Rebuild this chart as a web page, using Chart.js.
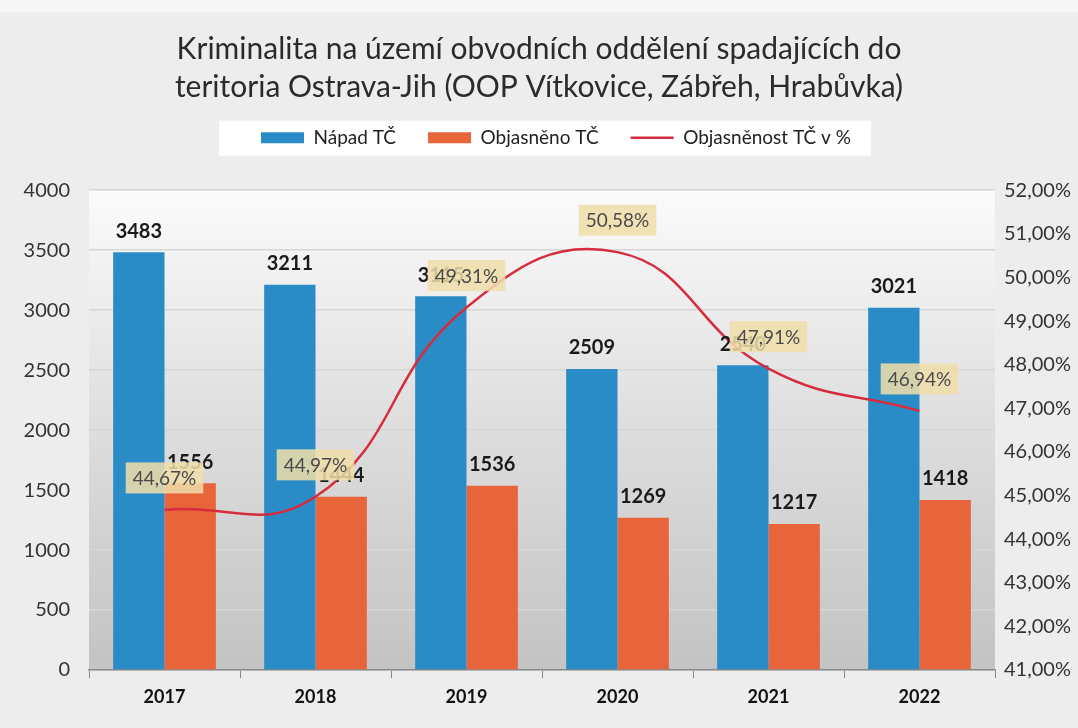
<!DOCTYPE html>
<html>
<head>
<meta charset="utf-8">
<script src="https://cdn.jsdelivr.net/npm/chart.js@4"></script>
<style>
  html, body { margin: 0; padding: 0; background: #ededed; }
  canvas { display: block; }
</style>
</head>
<body>
<canvas id="chart" width="1078" height="728"></canvas>
<script>
// Data
const years = ['2017', '2018', '2019', '2020', '2021', '2022'];
const napad = [3483, 3211, 3115, 2509, 2540, 3021];
const objasneno = [1556, 1444, 1536, 1269, 1217, 1418];
const objasnenost = [44.67, 44.97, 49.31, 50.58, 47.91, 46.94];

const titleLines = [
    'Kriminalita na území obvodních oddělení spadajících do',
    'teritoria Ostrava-Jih (OOP Vítkovice, Zábřeh, Hrabůvka)'
];

const FONT = 'Lato, "Open Sans", sans-serif';
const LEGEND_SHIFT = 17;

const fmtPct = v => v.toFixed(2).replace('.', ',') + '%';

// Background, plot gradient and white legend strip
const backdrop = {
    id: 'backdrop',
    beforeDraw(chart) {
        const { ctx, chartArea: a, width, height } = chart;
        ctx.save();
        ctx.fillStyle = '#ededed';
        ctx.fillRect(0, 0, width, height);
        ctx.fillStyle = '#f7f7f7';
        ctx.fillRect(0, 0, width, 12);

        const g = ctx.createLinearGradient(0, a.top, 0, a.bottom);
        g.addColorStop(0, '#fbfbfb');
        g.addColorStop(0.45, '#e0e0e0');
        g.addColorStop(1, '#c3c3c3');
        ctx.fillStyle = g;
        ctx.fillRect(a.left, a.top, a.right - a.left, a.bottom - a.top);

        const boxes = chart.legend.legendHitBoxes;
        if (boxes && boxes.length) {
            const last = boxes[boxes.length - 1];
            const l = boxes[0].left - 42;
            const r = last.left + last.width + 20;
            const cy = boxes[0].top + boxes[0].height / 2;
            ctx.fillStyle = '#ffffff';
            ctx.fillRect(l, cy - 17, r - l, 35);
        }
        ctx.restore();
    }
};

// Extra space under the legend, and legend nudged right
const legendGap = {
    id: 'legendGap',
    afterInit(chart) {
        const lg = chart.legend;
        const fit = lg.fit;
        lg.fit = function () {
            fit.call(this);
            this.height += 33;
        };
    },
    afterLayout(chart) {
        const lg = chart.legend;
        lg.left += LEGEND_SHIFT;
        lg.right += LEGEND_SHIFT;
        (lg.legendHitBoxes || []).forEach(b => { b.left += LEGEND_SHIFT; });
    }
};

// Value labels
const valueLabels = {
    id: 'valueLabels',
    afterDatasetsDraw(chart) {
        const ctx = chart.ctx;
        ctx.save();
        ctx.textAlign = 'center';
        ctx.textBaseline = 'middle';

        // bar labels
        ctx.font = 'bold 20px ' + FONT;
        ctx.fillStyle = '#1a1a1a';
        [0, 1].forEach(di => {
            const meta = chart.getDatasetMeta(di);
            meta.data.forEach((el, i) => {
                ctx.fillText(String(chart.data.datasets[di].data[i]), el.x, el.y - 21);
            });
        });

        // percentage labels with box
        ctx.font = '19px ' + FONT;
        const meta = chart.getDatasetMeta(2);
        meta.data.forEach((el, i) => {
            const txt = fmtPct(chart.data.datasets[2].data[i]);
            const w = ctx.measureText(txt).width + 14;
            const h = 31;
            const x = el.x, y = el.y - 32;
            ctx.fillStyle = 'rgba(240, 222, 170, 0.86)';
            ctx.fillRect(x - w / 2, y - h / 2, w, h);
            ctx.fillStyle = '#4a4a4a';
            ctx.fillText(txt, x, y + 1);
        });
        ctx.restore();
    }
};

new Chart(document.getElementById('chart').getContext('2d'), {
    data: {
        labels: years,
        datasets: [
            {
                type: 'bar',
                label: 'Nápad TČ',
                data: napad,
                backgroundColor: '#2a8cc6',
                borderWidth: 0,
                pointStyle: 'rect',
                yAxisID: 'y',
                order: 2
            },
            {
                type: 'bar',
                label: 'Objasněno TČ',
                data: objasneno,
                backgroundColor: '#e8643b',
                borderWidth: 0,
                pointStyle: 'rect',
                yAxisID: 'y',
                order: 2
            },
            {
                type: 'line',
                label: 'Objasněnost TČ v %',
                data: objasnenost,
                borderColor: '#d62d3e',
                backgroundColor: '#d62d3e',
                borderWidth: 2.5,
                pointRadius: 0,
                pointStyle: 'line',
                tension: 0.45,
                yAxisID: 'y1',
                order: 1
            }
        ]
    },
    options: {
        responsive: false,
        animation: false,
        layout: { padding: { left: 0, right: 0, top: 0, bottom: 0 } },
        datasets: {
            bar: { barPercentage: 1, categoryPercentage: 0.68 }
        },
        plugins: {
            title: {
                display: true,
                text: titleLines,
                color: '#2b2b2b',
                font: { family: FONT, size: 30, weight: 'normal', lineHeight: 1.27 },
                padding: { top: 30, bottom: -10 }
            },
            legend: {
                display: true,
                position: 'top',
                labels: {
                    usePointStyle: true,
                    pointStyleWidth: 43,
                    boxHeight: 11,
                    color: '#222',
                    padding: 32,
                    font: { family: FONT, size: 19 },
                    sort: (a, b) => a.datasetIndex - b.datasetIndex
                }
            },
            tooltip: { enabled: false }
        },
        scales: {
            x: {
                grid: {
                    drawOnChartArea: false,
                    drawTicks: true,
                    tickLength: 8,
                    color: '#888',
                    offset: true
                },
                border: { display: true, color: '#888', width: 1.5 },
                ticks: {
                    color: '#111',
                    padding: 8,
                    font: { family: FONT, size: 18, weight: 'bold' }
                },
                afterFit(scale) { scale.height = 58; }
            },
            y: {
                position: 'left',
                min: 0,
                max: 4000,
                ticks: {
                    stepSize: 500,
                    color: '#333',
                    padding: 19,
                    font: { family: FONT, size: 20 },
                    callback: v => String(v)
                },
                grid: { color: '#d6d6d6', lineWidth: 1.5, drawTicks: false },
                border: { display: false },
                afterFit(scale) { scale.width = 89; }
            },
            y1: {
                position: 'right',
                min: 41,
                max: 52,
                ticks: {
                    stepSize: 1,
                    color: '#333',
                    padding: 9,
                    font: { family: FONT, size: 20 },
                    callback: v => fmtPct(v)
                },
                grid: { drawOnChartArea: false, drawTicks: false },
                border: { display: false },
                afterFit(scale) { scale.width = 83; }
            }
        }
    },
    plugins: [backdrop, legendGap, valueLabels]
});
</script>
</body>
</html>
